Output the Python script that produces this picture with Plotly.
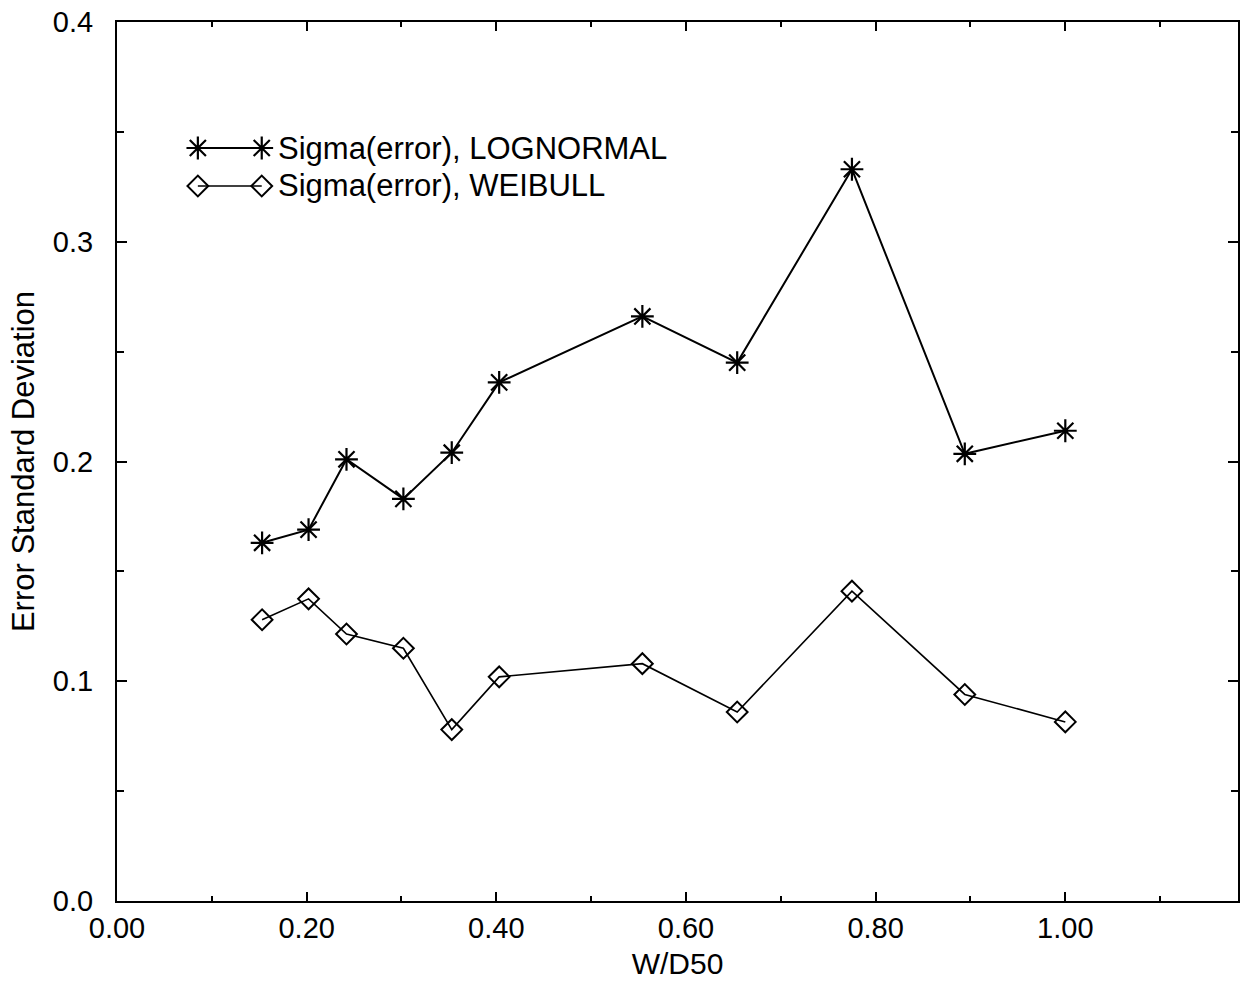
import plotly.graph_objects as go

# ---- data ----
w_d50 = [0.153, 0.202, 0.242, 0.302, 0.353, 0.403, 0.554, 0.654, 0.775, 0.894, 1.000]
sigma_lognormal = [0.163, 0.169, 0.201, 0.183, 0.204, 0.236, 0.266, 0.245, 0.333, 0.2035, 0.214]
sigma_weibull = [0.128, 0.1375, 0.1215, 0.115, 0.078, 0.102, 0.108, 0.086, 0.141, 0.094, 0.0815]

x_ticks = [0.0, 0.2, 0.4, 0.6, 0.8, 1.0]
x_tick_labels = ["0.00", "0.20", "0.40", "0.60", "0.80", "1.00"]
y_ticks = [0.0, 0.1, 0.2, 0.3, 0.4]
y_tick_labels = ["0.0", "0.1", "0.2", "0.3", "0.4"]

series_names = ["Sigma(error), LOGNORMAL", "Sigma(error), WEIBULL"]

FONT = "Liberation Sans, Arial, Helvetica, sans-serif"
W, H = 1241, 985
L, R, T, B = 117, 1, 22, 84

fig = go.Figure()

star = dict(symbol="asterisk-open", size=19, color="black", line=dict(color="black", width=2.2))
diamond = dict(symbol="diamond-open", size=16, color="black", line=dict(color="black", width=2))

fig.add_trace(go.Scatter(x=w_d50, y=sigma_lognormal, mode="lines+markers",
                         line=dict(color="black", width=2), marker=star,
                         name=series_names[0], showlegend=False))
fig.add_trace(go.Scatter(x=w_d50, y=sigma_weibull, mode="lines+markers",
                         line=dict(color="black", width=1.6), marker=diamond,
                         name=series_names[1], showlegend=False))

# ---- hand-built legend (line with marker at both ends), on an overlay axis in plot-fraction units ----
pw = W - L - R
ph = H - T - B
def fx(px):
    return (px - L) / pw
def fy(py):
    return (H - B - py) / ph

leg_rows_y = [148, 186]
leg_x0, leg_x1, leg_text_x = 198, 262, 276
markers = [star, diamond]
for i, name in enumerate(series_names):
    fig.add_trace(go.Scatter(x=[fx(leg_x0), fx(leg_x1)], y=[fy(leg_rows_y[i])] * 2,
                             xaxis="x2", yaxis="y2", mode="lines+markers",
                             line=dict(color="black", width=2 if i == 0 else 1.6),
                             marker=markers[i], showlegend=False, hoverinfo="skip"))
    fig.add_annotation(x=fx(leg_text_x), y=fy(leg_rows_y[i]), xref="paper", yref="paper",
                       text=name, showarrow=False, xanchor="left", yanchor="middle",
                       font=dict(family=FONT, size=31, color="black"))

axis_common = dict(showgrid=False, zeroline=False, showline=True, linecolor="black",
                   linewidth=2, mirror="ticks", ticks="inside", tickcolor="black",
                   tickwidth=1.5, tickfont=dict(family=FONT, size=29, color="black"))

fig.update_layout(
    width=W, height=H,
    margin=dict(l=L, r=R, t=T, b=B),
    paper_bgcolor="white", plot_bgcolor="white",
    showlegend=False,
    xaxis=dict(range=[0, (W - L - R) / 950.0], tickvals=x_ticks, ticktext=x_tick_labels,
               ticklen=9, ticklabelstandoff=0,
               minor=dict(dtick=0.1, tick0=0, ticks="inside", ticklen=5, tickcolor="black", tickwidth=1.5),
               title=dict(text="W/D50", font=dict(family=FONT, size=30, color="black"), standoff=10),
               **axis_common),
    yaxis=dict(range=[0, 0.4], tickvals=y_ticks, ticktext=y_tick_labels,
               ticklen=10, ticklabelstandoff=16,
               minor=dict(dtick=0.05, tick0=0, ticks="inside", ticklen=7, tickcolor="black", tickwidth=1.5),
               title=dict(text="Error Standard Deviation", font=dict(family=FONT, size=31, color="black"), standoff=9),
               **axis_common),
    xaxis2=dict(overlaying="x", range=[0, 1], visible=False, fixedrange=True),
    yaxis2=dict(overlaying="y", range=[0, 1], visible=False, fixedrange=True),
)

fig.write_html("out.html")
